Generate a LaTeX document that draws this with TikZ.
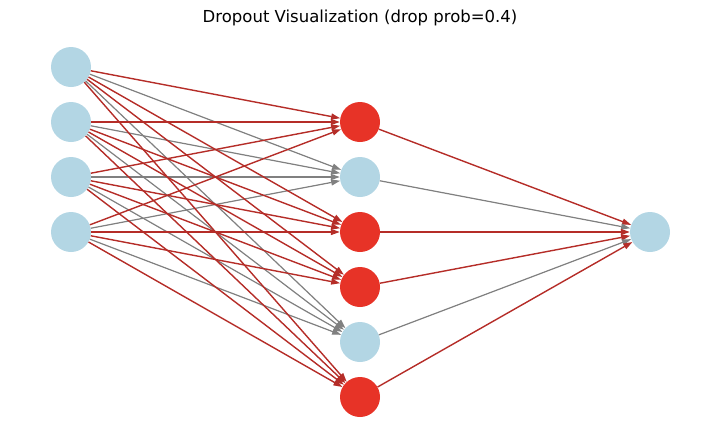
\documentclass[tikz,border=0pt]{standalone}
\usepackage{fontspec}
\setmainfont{DejaVu Sans}
\usepackage{xcolor}
\usetikzlibrary{arrows.meta}

\definecolor{nodeblue}{RGB}{179,214,228}
\definecolor{nodered}{RGB}{231,51,39}
\definecolor{edgered}{RGB}{181,45,40}
\definecolor{edgegray}{RGB}{128,128,128}

\begin{document}
\begin{tikzpicture}[x=1pt, y=-1pt,
    unit/.style={circle, inner sep=0pt, minimum size=40pt, fill=nodeblue},
    kept/.style={unit, fill=nodered},
    redarrow/.style={-{Triangle[length=9pt,width=6pt]}, draw=edgered, fill=edgered, line width=1.4pt},
    grayarrow/.style={-{Triangle[length=9pt,width=6pt]}, draw=edgegray, fill=edgegray, line width=1.2pt}
]
    \useasboundingbox (0,0) rectangle (719,442);
    \node[font=\fontsize{16.5}{19}\selectfont] (title) at (360,18) {Dropout Visualization (drop prob=0.4)};

    % input layer
    \node[unit] (in1) at (71,67) {};
    \node[unit] (in2) at (71,122) {};
    \node[unit] (in3) at (71,177) {};
    \node[unit] (in4) at (71,232) {};

    % hidden layer (red = kept, blue = dropped)
    \node[kept] (h1) at (360,122) {};
    \node[unit] (h2) at (360,177) {};
    \node[kept] (h3) at (360,232) {};
    \node[kept] (h4) at (360,287) {};
    \node[unit] (h5) at (360,342) {};
    \node[kept] (h6) at (360,397) {};

    % output
    \node[unit] (out) at (650,232) {};

    % input -> hidden
    \foreach \i in {1,...,4} \draw[grayarrow] (in\i) -- (h2);
    \foreach \i in {1,...,4} \draw[grayarrow] (in\i) -- (h5);
    \foreach \i in {1,...,4} \draw[redarrow] (in\i) -- (h1);
    \foreach \i in {1,...,4} \draw[redarrow] (in\i) -- (h3);
    \foreach \i in {1,...,4} \draw[redarrow] (in\i) -- (h4);
    \foreach \i in {1,...,4} \draw[redarrow] (in\i) -- (h6);

    % hidden -> output
    \draw[redarrow] (h1) -- (out);
    \draw[grayarrow] (h2) -- (out);
    \draw[redarrow] (h3) -- (out);
    \draw[redarrow] (h4) -- (out);
    \draw[grayarrow] (h5) -- (out);
    \draw[redarrow] (h6) -- (out);
\end{tikzpicture}
\end{document}
